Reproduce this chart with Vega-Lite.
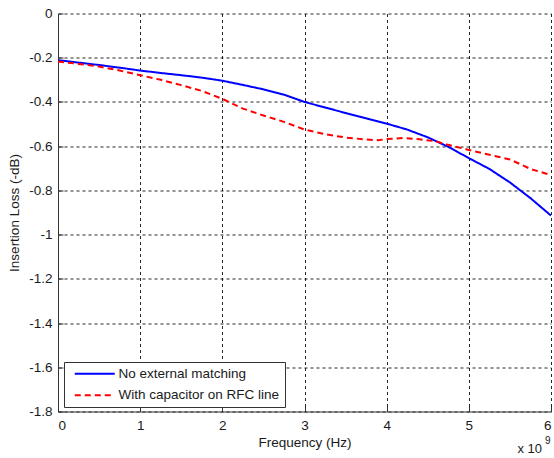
{
  "$schema": "https://vega.github.io/schema/vega-lite/v6.json",
  "width": 493,
  "height": 398,
  "autosize": {"type": "none"},
  "padding": {"left": 58, "top": 13.5, "right": 3, "bottom": 46.5},
  "background": "white",
  "config": {
    "view": {"stroke": null},
    "font": "Liberation Sans",
    "axis": {
      "labelFont": "Liberation Sans",
      "titleFont": "Liberation Sans",
      "labelFontSize": 13.5,
      "titleFontSize": 13.5,
      "titleFontWeight": "normal",
      "labelColor": "#1a1a1a",
      "titleColor": "#1a1a1a",
      "domainColor": "#333333",
      "tickColor": "#333333",
      "tickSize": -5,
      "grid": true,
      "gridColor": "#000000",
      "gridOpacity": 0.85,
      "gridDash": [3, 3],
      "gridWidth": 1
    },
    "legend": {
      "labelFont": "Liberation Sans"
    }
  },
  "layer": [
    {
      "data": {
        "values": [
          {"series": "No external matching", "freq": 0, "loss": -0.211},
          {"series": "No external matching", "freq": 0.25, "loss": -0.222},
          {"series": "No external matching", "freq": 0.5, "loss": -0.233},
          {"series": "No external matching", "freq": 0.75, "loss": -0.245},
          {"series": "No external matching", "freq": 1, "loss": -0.258},
          {"series": "No external matching", "freq": 1.25, "loss": -0.269},
          {"series": "No external matching", "freq": 1.5, "loss": -0.279},
          {"series": "No external matching", "freq": 1.75, "loss": -0.29},
          {"series": "No external matching", "freq": 2, "loss": -0.304},
          {"series": "No external matching", "freq": 2.25, "loss": -0.323},
          {"series": "No external matching", "freq": 2.5, "loss": -0.343},
          {"series": "No external matching", "freq": 2.75, "loss": -0.367},
          {"series": "No external matching", "freq": 3, "loss": -0.4},
          {"series": "No external matching", "freq": 3.25, "loss": -0.425},
          {"series": "No external matching", "freq": 3.5, "loss": -0.45},
          {"series": "No external matching", "freq": 3.75, "loss": -0.474},
          {"series": "No external matching", "freq": 4, "loss": -0.498},
          {"series": "No external matching", "freq": 4.25, "loss": -0.525},
          {"series": "No external matching", "freq": 4.5, "loss": -0.56},
          {"series": "No external matching", "freq": 4.75, "loss": -0.603},
          {"series": "No external matching", "freq": 5, "loss": -0.654},
          {"series": "No external matching", "freq": 5.25, "loss": -0.703},
          {"series": "No external matching", "freq": 5.5, "loss": -0.764},
          {"series": "No external matching", "freq": 5.75, "loss": -0.835},
          {"series": "No external matching", "freq": 6, "loss": -0.914},
          {"series": "With capacitor on RFC line", "freq": 0, "loss": -0.217},
          {"series": "With capacitor on RFC line", "freq": 0.25, "loss": -0.228},
          {"series": "With capacitor on RFC line", "freq": 0.5, "loss": -0.24},
          {"series": "With capacitor on RFC line", "freq": 0.75, "loss": -0.258},
          {"series": "With capacitor on RFC line", "freq": 1, "loss": -0.279},
          {"series": "With capacitor on RFC line", "freq": 1.25, "loss": -0.3},
          {"series": "With capacitor on RFC line", "freq": 1.5, "loss": -0.324},
          {"series": "With capacitor on RFC line", "freq": 1.75, "loss": -0.35},
          {"series": "With capacitor on RFC line", "freq": 2, "loss": -0.386},
          {"series": "With capacitor on RFC line", "freq": 2.25, "loss": -0.43},
          {"series": "With capacitor on RFC line", "freq": 2.5, "loss": -0.461},
          {"series": "With capacitor on RFC line", "freq": 2.75, "loss": -0.49},
          {"series": "With capacitor on RFC line", "freq": 3, "loss": -0.525},
          {"series": "With capacitor on RFC line", "freq": 3.25, "loss": -0.546},
          {"series": "With capacitor on RFC line", "freq": 3.5, "loss": -0.561},
          {"series": "With capacitor on RFC line", "freq": 3.75, "loss": -0.57},
          {"series": "With capacitor on RFC line", "freq": 3.9, "loss": -0.573},
          {"series": "With capacitor on RFC line", "freq": 4, "loss": -0.568},
          {"series": "With capacitor on RFC line", "freq": 4.2, "loss": -0.563},
          {"series": "With capacitor on RFC line", "freq": 4.4, "loss": -0.569},
          {"series": "With capacitor on RFC line", "freq": 4.6, "loss": -0.578},
          {"series": "With capacitor on RFC line", "freq": 4.75, "loss": -0.594},
          {"series": "With capacitor on RFC line", "freq": 5, "loss": -0.617},
          {"series": "With capacitor on RFC line", "freq": 5.25, "loss": -0.639},
          {"series": "With capacitor on RFC line", "freq": 5.5, "loss": -0.66},
          {"series": "With capacitor on RFC line", "freq": 5.75, "loss": -0.703},
          {"series": "With capacitor on RFC line", "freq": 6, "loss": -0.731}
        ]
      },
      "mark": {"type": "line", "strokeWidth": 2, "clip": true},
      "encoding": {
        "x": {
          "field": "freq",
          "type": "quantitative",
          "scale": {"domain": [0, 6], "nice": false, "zero": false},
          "axis": {
            "values": [0, 1, 2, 3, 4, 5, 6],
            "labelExpr": "toString(datum.value)",
            "labelPadding": 12,
            "title": "Frequency (Hz)",
            "titleBaseline": "alphabetic",
            "titleY": 34.5
          }
        },
        "y": {
          "field": "loss",
          "type": "quantitative",
          "scale": {"domain": [-1.8, 0], "nice": false, "zero": false},
          "axis": {
            "values": [-1.8, -1.6, -1.4, -1.2, -1, -0.8, -0.6, -0.4, -0.2, 0],
            "labelExpr": "toString(datum.value)",
            "labelPadding": 11,
            "title": "Insertion Loss (-dB)",
            "titleX": -44,
            "titleY": 199,
            "titleAngle": -90,
            "titleAlign": "center",
            "titleBaseline": "middle"
          }
        },
        "color": {
          "field": "series",
          "type": "nominal",
          "scale": {
            "domain": ["No external matching", "With capacitor on RFC line"],
            "range": ["#0000ff", "#ff0000"]
          },
          "legend": {
            "title": null,
            "orient": "none",
            "legendX": 6,
            "legendY": 348.5,
            "direction": "vertical",
            "strokeColor": "#333333",
            "fillColor": "#ffffff",
            "padding": 5,
            "rowPadding": 6.5,
            "symbolType": "M-4,0H4",
            "symbolSize": 100,
            "symbolStrokeWidth": 2,
            "symbolOffset": 19,
            "labelOffset": 17,
            "labelFontSize": 13.5,
            "labelColor": "#1a1a1a",
            "labelLimit": 300
          }
        },
        "strokeDash": {
          "field": "series",
          "type": "nominal",
          "scale": {
            "domain": ["No external matching", "With capacitor on RFC line"],
            "range": [[1, 0], [6, 4]]
          },
          "legend": {
            "title": null,
            "orient": "none",
            "legendX": 6,
            "legendY": 348.5,
            "direction": "vertical",
            "strokeColor": "#333333",
            "fillColor": "#ffffff",
            "padding": 5,
            "rowPadding": 6.5,
            "symbolType": "M-4,0H4",
            "symbolSize": 100,
            "symbolStrokeWidth": 2,
            "symbolOffset": 19,
            "labelOffset": 17,
            "labelFontSize": 13.5,
            "labelColor": "#1a1a1a",
            "labelLimit": 300
          }
        }
      }
    },
    {
      "data": {"values": [{}]},
      "mark": {"type": "text", "text": "x 10", "align": "right", "baseline": "alphabetic", "dx": -9, "dy": 41.5, "fontSize": 13, "font": "Liberation Sans", "color": "#1a1a1a"},
      "encoding": {"x": {"datum": 6}, "y": {"datum": -1.8}}
    },
    {
      "data": {"values": [{}]},
      "mark": {"type": "text", "text": "9", "align": "left", "baseline": "alphabetic", "dx": -6, "dy": 32.5, "fontSize": 10, "font": "Liberation Sans", "color": "#1a1a1a"},
      "encoding": {"x": {"datum": 6}, "y": {"datum": -1.8}}
    }
  ]
}
